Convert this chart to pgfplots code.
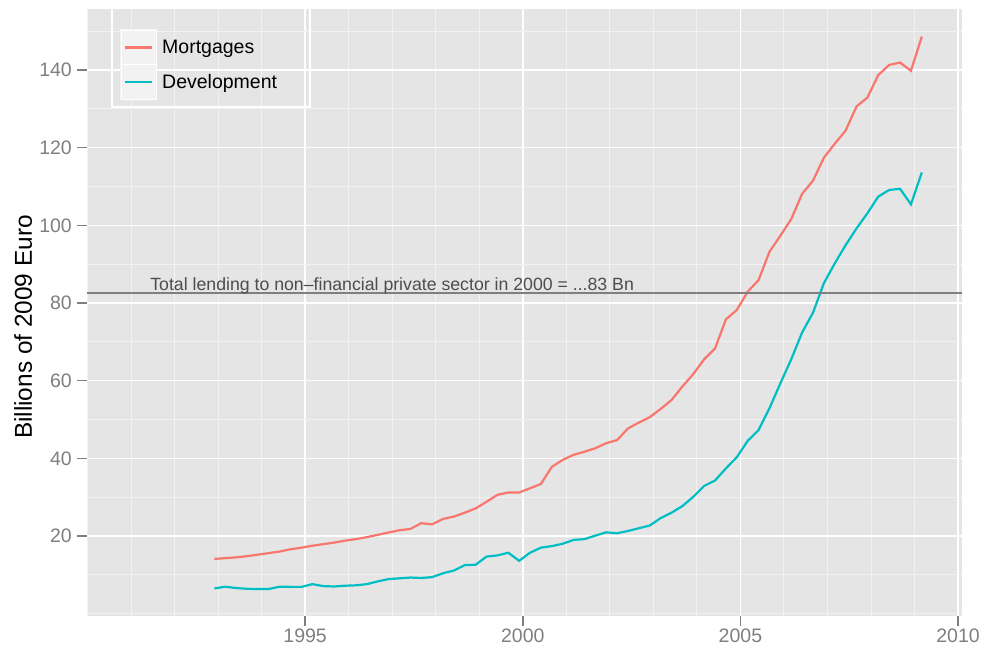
\documentclass[border=0pt]{standalone}
\usepackage{fontspec}
\setmainfont{Liberation Sans}
\usepackage{pgfplots}
\pgfplotsset{compat=1.18}
\usepackage{pgfplotstable}
\definecolor{mort}{HTML}{F8766D}
\definecolor{dev}{HTML}{00BFC4}
\definecolor{panel}{HTML}{E5E5E5}
\definecolor{minorgrid}{HTML}{F2F2F2}
\definecolor{grey50}{HTML}{7F7F7F}
\definecolor{grey30}{HTML}{4D4D4D}

\pgfplotstableread{
t mort dev
1992.917 14.1 6.5
1993.167 14.3 6.95
1993.417 14.5 6.6
1993.667 14.8 6.4
1993.917 15.2 6.35
1994.167 15.6 6.35
1994.417 16.0 6.95
1994.667 16.6 6.9
1994.917 17.0 6.9
1995.167 17.5 7.6
1995.417 17.9 7.1
1995.667 18.3 7.0
1995.917 18.8 7.2
1996.167 19.2 7.3
1996.417 19.7 7.6
1996.667 20.3 8.3
1996.917 20.9 8.9
1997.167 21.5 9.1
1997.417 21.8 9.3
1997.667 23.3 9.2
1997.917 23.0 9.4
1998.167 24.4 10.4
1998.417 25.0 11.1
1998.667 26.0 12.5
1998.917 27.1 12.6
1999.167 28.8 14.7
1999.417 30.6 15.0
1999.667 31.2 15.7
1999.917 31.2 13.6
2000.167 32.3 15.7
2000.417 33.4 17.0
2000.667 37.8 17.4
2000.917 39.6 18.0
2001.167 40.9 19.0
2001.417 41.7 19.2
2001.667 42.6 20.1
2001.917 43.9 20.95
2002.167 44.7 20.7
2002.417 47.7 21.3
2002.667 49.2 22.0
2002.917 50.6 22.7
2003.167 52.7 24.6
2003.417 55.0 26.0
2003.667 58.5 27.7
2003.917 61.7 30.1
2004.167 65.5 32.9
2004.417 68.3 34.3
2004.667 75.8 37.4
2004.917 78.2 40.3
2005.167 82.9 44.5
2005.417 85.9 47.3
2005.667 93.2 52.9
2005.917 97.3 59.3
2006.167 101.6 65.5
2006.417 108.1 72.4
2006.667 111.5 77.5
2006.917 117.4 85.1
2007.167 121.0 90.2
2007.417 124.4 94.9
2007.667 130.6 99.2
2007.917 132.9 103.1
2008.167 138.7 107.4
2008.417 141.3 109.1
2008.667 141.9 109.4
2008.917 139.8 105.4
2009.167 148.6 113.6
}\loaddata

\begin{document}
\begin{tikzpicture}
\begin{axis}[
  scale only axis, width=875pt, height=607pt,
  xmin=1989.99, xmax=2010.09, ymin=-0.6, ymax=155.7,
  xtick={1995,2000,2005,2010}, ytick={20,40,...,140},
  minor xtick={1990,...,2010}, minor ytick={0,10,...,150},
  grid=both,
  major grid style={white, line width=1.6pt},
  minor grid style={minorgrid, line width=0.9pt},
  axis background/.style={fill=panel},
  axis line style={draw=none},
  tick pos=left, tick align=outside,
  major tick length=10pt, minor tick length=0pt,
  major tick style={grey50, line width=1.6pt},
  tick label style={font=\fontsize{19.5}{20}\selectfont, text=grey50},
  /pgf/number format/assume math mode=true,
  /pgf/number format/1000 sep={},
  xticklabel style={inner ysep=3pt},
  yticklabel style={inner xsep=5pt},
  ylabel={Billions of 2009 Euro},
  ylabel style={at={(rel axis cs:-0.0731,0.476)}, anchor=center, font=\fontsize{24.4}{26}\selectfont, text=black},
  legend style={at={(rel axis cs:0.03771,0.9671)}, anchor=north west, draw=none, fill=none,
    inner sep=0pt, outer sep=0pt, row sep=-3pt, font=\fontsize{19.5}{20}\selectfont,
    /tikz/every odd column/.append style={column sep=3pt}},
  legend cell align=left,
  legend image code/.code={
    \fill[minorgrid] (0pt,-17.5pt) rectangle (35pt,17.5pt);
    \draw[white, line width=1pt] (0pt,-17.5pt) rectangle (35pt,17.5pt);
    \draw[#1, line width=2.5pt] (4pt,0pt) -- (31pt,0pt);
  },
]
\addplot[mort, line width=2.2pt] table[x=t, y=mort] {\loaddata};
\addlegendentry{Mortgages}
\addplot[dev, line width=2.2pt] table[x=t, y=dev] {\loaddata};
\addlegendentry{Development}
\addplot[grey50, line width=2.5pt, forget plot] coordinates {(1989.99,82.6) (2010.09,82.6)};
\node[anchor=base, font=\fontsize{17.7}{19}\selectfont, text=grey30] at (axis cs:1997.0,83.1) {Total lending to non--financial private sector in 2000 = ...83 Bn};
\draw[white, line width=1.5pt] (rel axis cs:0.02857,1) |- (rel axis cs:0.2549,0.8386) -- (rel axis cs:0.2549,1);
\end{axis}
\pgfresetboundingbox
\path (current axis.south west) ++(-87pt,-35pt) rectangle ([shift={(22pt,9pt)}]current axis.north east);
\end{tikzpicture}
\end{document}
